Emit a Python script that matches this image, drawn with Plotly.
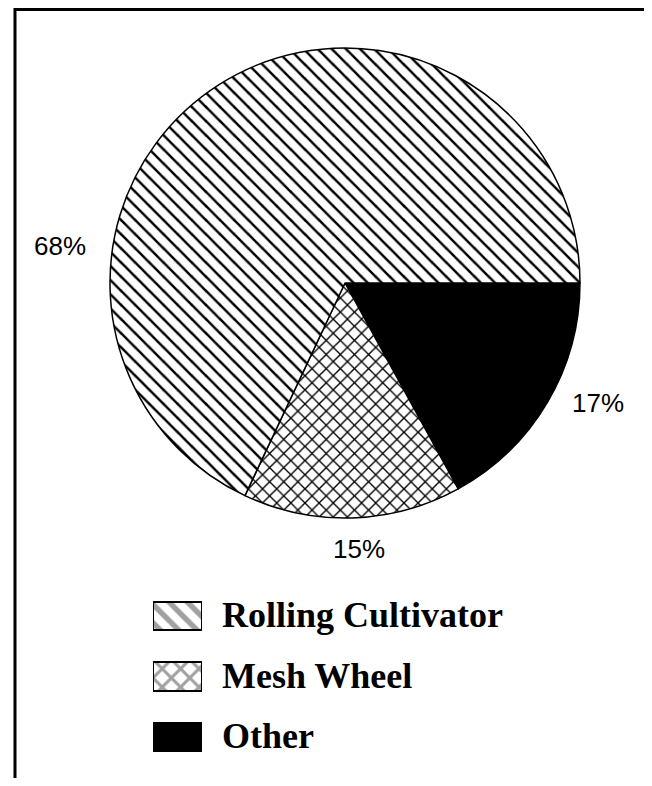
import plotly.graph_objects as go

# Données du graphique
labels = ["Rolling Cultivator", "Mesh Wheel", "Other"]
values = [68, 15, 17]
patterns = ["\\", "x", ""]
slice_colors = ["white", "white", "black"]
pct_pos = [(60, 246), (359, 549), (598, 403)]  # centres des étiquettes (pixels de la page)

# la page HTML a une marge de 8 px autour de la figure
OFF = 8
W, H = 652 - OFF, 786 - 2 * OFF


def px_x(x):
    return (x - OFF) / W


def px_y(y):
    return 1 - (y - OFF) / H


fig = go.Figure()

# Camembert : sens horaire depuis 3 h, ordre inversé (Other, Mesh, Rolling)
fig.add_trace(go.Pie(
    labels=labels[::-1],
    values=values[::-1],
    sort=False,
    direction="clockwise",
    rotation=90,
    textinfo="none",
    hoverinfo="label+percent",
    showlegend=False,
    marker=dict(
        colors=slice_colors[::-1],
        line=dict(color="black", width=1.5),
        pattern=dict(shape=patterns[::-1], fgcolor="black", bgcolor="white",
                     size=10, solidity=0.25, fillmode="replace"),
    ),
    domain=dict(x=[px_x(110), px_x(580)], y=[px_y(518), px_y(48)]),
))

# Légende dessinée à la main (cases hachurées)
fig.add_trace(go.Bar(
    x=[1] * len(labels),
    y=labels,
    orientation="h",
    width=0.47,
    showlegend=False,
    hoverinfo="y",
    marker=dict(
        color=slice_colors,
        line=dict(color="black", width=2),
        pattern=dict(shape=patterns, fgcolor="black", bgcolor="white",
                     size=13, solidity=0.42),
    ),
    xaxis="x", yaxis="y",
))

for lab in labels:
    fig.add_annotation(x=1, y=lab, xref="x", yref="y", text=lab,
                       xanchor="left", yanchor="middle", xshift=18, yshift=1,
                       showarrow=False,
                       font=dict(family="Liberation Serif", size=36, color="black",
                                 weight="bold"))

# Pourcentages
for v, (cx, cy) in zip(values, pct_pos):
    fig.add_annotation(x=px_x(cx), y=px_y(cy), xref="paper", yref="paper",
                       xanchor="center", yanchor="middle",
                       text=f"{v}%", showarrow=False,
                       font=dict(family="Liberation Sans", size=26, color="black"))

# Cadre
fig.add_shape(type="rect", xref="paper", yref="paper",
              x0=px_x(15), x1=px_x(650), y0=px_y(800), y1=px_y(9.5),
              line=dict(color="black", width=3))

fig.update_layout(
    width=W, height=H,
    margin=dict(l=0, r=0, t=0, b=0),
    paper_bgcolor="white",
    plot_bgcolor="white",
    xaxis=dict(domain=[px_x(153), px_x(202)], range=[0, 1], visible=False,
               fixedrange=True),
    yaxis=dict(domain=[px_y(767), px_y(586)], autorange="reversed",
               visible=False, fixedrange=True),
    bargap=0,
)

fig.write_html("out.html")
